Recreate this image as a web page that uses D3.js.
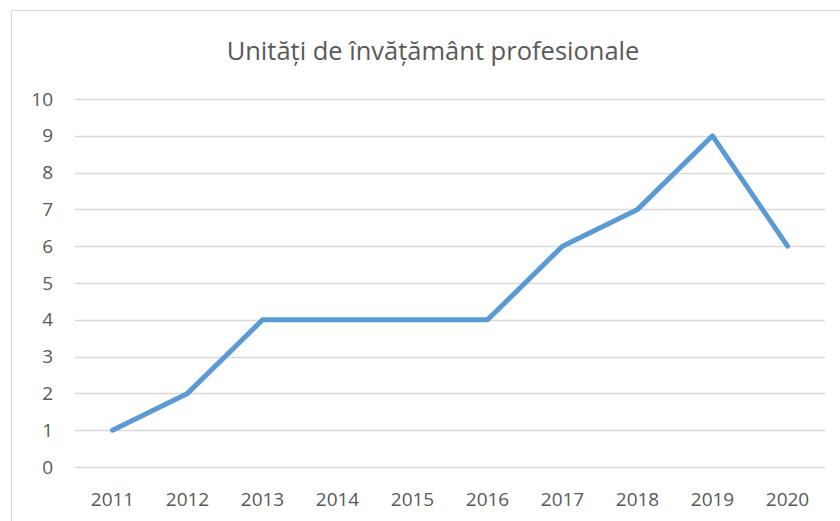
<!DOCTYPE html>
<html><head><meta charset="utf-8">
<script src="https://cdn.jsdelivr.net/npm/d3@7"></script>
<style>body{margin:0;background:#fff}svg{display:block}</style>
</head><body>
<script>
const categories = ["2011","2012","2013","2014","2015","2016","2017","2018","2019","2020"];
const values = [1,2,4,4,4,4,6,7,9,6];
const yTicks = [0,1,2,3,4,5,6,7,8,9,10];
const title = "Unități de învățământ profesionale";

const W = 840, H = 521;
const svg = d3.select("body").append("svg").attr("width", W).attr("height", H);
svg.append("rect").attr("x",11.5).attr("y",10.5).attr("width",W).attr("height",H)
  .attr("fill","#fff").attr("stroke","#d9d9d9").attr("stroke-width",1);

const font = "'Open Sans', 'Noto Sans', sans-serif";
const x = d3.scaleBand().domain(categories).range([75,825]);
const y = d3.scaleLinear().domain([0,10]).range([467,99]);

svg.append("text").attr("x",433).attr("y",60).attr("text-anchor","middle")
  .attr("font-family",font).attr("font-size",25.5).attr("fill","#595959").text(title);

const grid = svg.append("g");
grid.selectAll("line").data(yTicks).join("line")
  .attr("x1",75).attr("x2",825).attr("y1",d=>Math.round(y(d))+0.5).attr("y2",d=>Math.round(y(d))+0.5)
  .attr("stroke","#d9d9d9").attr("stroke-width",1.3);

const yAxis = svg.append("g").attr("transform","translate(75,0)")
  .call(d3.axisLeft(y).tickValues(yTicks).tickSize(0).tickPadding(22).tickFormat(d3.format("d")));
yAxis.select(".domain").remove();
yAxis.selectAll("text").attr("font-family",font).attr("font-size",19).attr("fill","#595959");

const xAxis = svg.append("g").attr("transform","translate(0,467)")
  .call(d3.axisBottom(x).tickSize(0).tickPadding(26));
xAxis.select(".domain").remove();
xAxis.selectAll("text").attr("font-family",font).attr("font-size",19).attr("fill","#595959");

const line = d3.line().x((d,i)=>x(categories[i])+x.bandwidth()/2).y(d=>y(d));
svg.append("path").datum(values).attr("d",line).attr("fill","none")
  .attr("stroke","#5b9bd5").attr("stroke-width",5).attr("stroke-linecap","round").attr("stroke-linejoin","round");
</script>
</body></html>
